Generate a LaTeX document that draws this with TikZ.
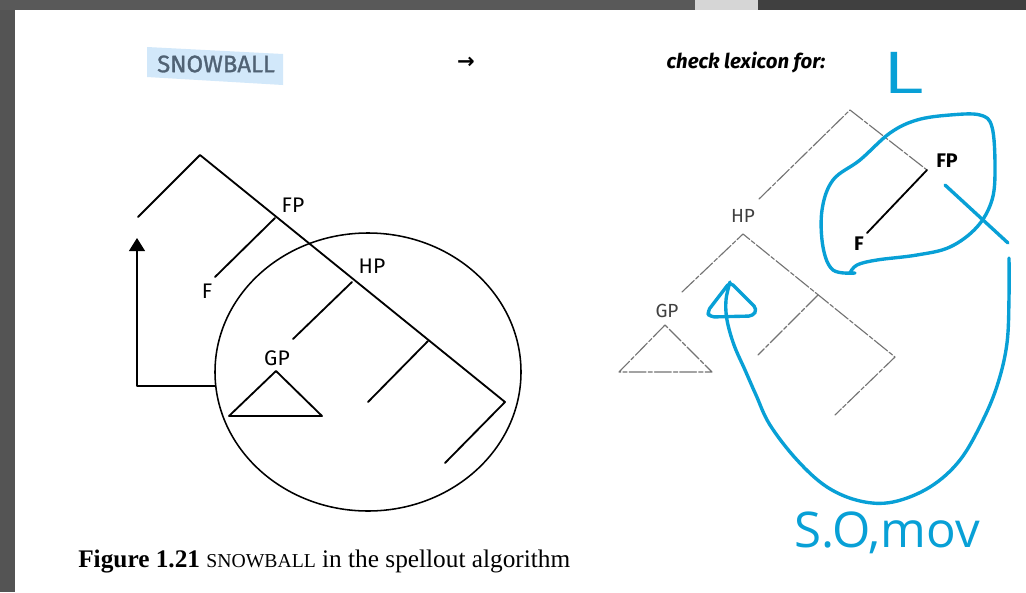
\documentclass[tikz,border=0pt]{standalone}
\usepackage{fontspec}
\setmainfont{Liberation Serif}
\newfontfamily\treefont{Fira Sans}
\newfontfamily\snowfont[FakeBold=1.2]{Fira Sans}
\newfontfamily\symfont{DejaVu Sans}
\newfontfamily\handfont{Open Sans}
\usetikzlibrary{arrows.meta}
\definecolor{pen}{RGB}{8,160,214}
\definecolor{marker}{RGB}{210,232,250}
\definecolor{inkgray}{RGB}{80,98,116}
\begin{document}
\begin{tikzpicture}[x=0.025cm, y=-0.025cm, line join=round, line cap=round,
  branch/.style={line width=1.3pt},
  faint/.style={black!55, line width=0.8pt, dash pattern=on 12pt off 1.5pt on 3pt off 1.5pt},
  stroke/.style={pen, line width=2.4pt},
  lbl/.style={font=\treefont\fontsize{15}{15}\selectfont, inner sep=0pt},
  rlbl/.style={font=\treefont\fontsize{13.5}{13.5}\selectfont, inner sep=0pt, black!75},
  blbl/.style={font=\treefont\bfseries\fontsize{14}{14}\selectfont, inner sep=0pt}]
\useasboundingbox (0,0) rectangle (1026,592);
% window frame
\fill[black!67] (0,0) rectangle (1026,592);
\fill[black!65] (0,0) rectangle (695,10);
\fill[black!16] (695,0) rectangle (758,10);
\fill[black!75] (758,0) rectangle (1026,10);
\fill[white] (15,10) rectangle (1026,592);
% heading line
\fill[marker] (147,47) -- (283,54) -- (283,85) -- (147,77) -- cycle;
\node[inkgray, font=\snowfont\fontsize{17}{17}\selectfont] (snow) at (216,64) {SNOWBALL};
\node[font=\symfont\bfseries\fontsize{15}{15}\selectfont] (goes) at (466,63) {→};
\node[font=\treefont\bfseries\itshape\fontsize{14.5}{14.5}\selectfont] (check) at (746,63) {check lexicon for:};
% left tree
\path
(200,155) coordinate (Ltop)
(138,217) coordinate (Lleft)
(275,218) coordinate (Lfp)
(215,277) coordinate (Lf)
(352,282) coordinate (Lhp)
(293,339) coordinate (Lgp)
(428,341) coordinate (Lmid)
(368,402) coordinate (Lmidend)
(505,402) coordinate (Llow)
(445,463) coordinate (Llowend)
(276,371) coordinate (Ltri);
\draw[branch] (Lleft) -- (Ltop) -- (Llow) -- (Llowend);
\foreach \a/\b in {Lfp/Lf, Lhp/Lgp, Lmid/Lmidend}
\draw[branch] (\a) -- (\b);
\draw[branch] (Ltri) -- ++(-47,45) -- ++(93,0) -- cycle;
\draw[line width=1.1pt] (368,372) ellipse (153 and 139);
\path (215,386) coordinate (Lring) (137,386) coordinate (Lcorner) (137,238) coordinate (Ltip);
\draw[branch, -{Triangle[length=0.33cm, width=0.4cm]}] (Lring) -- (Lcorner) -- (Ltip);
\foreach \n/\t/\p in {nFP/FP/{293,205}, nHP/HP/{372,266}, nF/F/{207,291}, nGP/GP/{277,358}}
\node[lbl] (L\n) at (\p) {\t};
% right tree
\path
(850,110) coordinate (Rtop)
(759,199) coordinate (Rleft)
(927,170) coordinate (Rfp)
(867,233) coordinate (Rf)
(743,234) coordinate (Rhp)
(682,292) coordinate (Rgp)
(818,295) coordinate (Rmid)
(758,355) coordinate (Rmidend)
(895,357) coordinate (Rlow)
(835,415) coordinate (Rlowend)
(665,325) coordinate (Rtri);
\draw[faint] (Rleft) -- (Rtop) -- (Rfp);
\draw[faint] (Rgp) -- (Rhp) -- (Rlow) -- (Rlowend);
\draw[faint] (Rmid) -- (Rmidend);
\draw[faint] (Rtri) -- ++(-46,47) -- ++(93,0) -- cycle;
\draw[line width=1.3pt] (Rfp) -- (Rf);
\node[rlbl] (RnHP) at (743,216) {HP};
\node[rlbl] (RnGP) at (667,311) {GP};
\node[blbl] (RnFP) at (947,161) {FP};
\node[blbl] (RnF) at (859,244) {F};
% pen marks
\node[pen, font=\handfont\fontsize{41}{41}\selectfont, inner sep=0pt] (mark) at (904,73) {\scalebox{1.35}[1]{L}};
\draw[stroke] plot[smooth, tension=0.6] coordinates {(855,273) (833,270) (823,247) (822,210) (833,180) (860,160) (890,133) (917,120) (950,115) (980,115) (992,127) (995,167) (992,200) (977,227) (950,247) (917,255) (877,260) (857,265) (850,273)};
\path (945,185) coordinate (Pa) (1008,243) coordinate (Pb);
\draw[stroke] (Pa) -- (Pb);
\draw[stroke] plot[smooth, tension=0.6] coordinates {(1009,258) (1009,297) (1007,343) (998,383) (983,420) (960,460) (930,487) (893,502) (860,501) (827,487) (797,460) (770,425) (756,395) (745,370) (734,345) (727,320) (726,300) (730,282)};
\draw[stroke, rounded corners=3pt] (730,282) -- (757,309) -- (753,316) -- (710,317) -- (707,312) -- cycle;
\node[pen, font=\handfont\fontsize{35}{35}\selectfont, inner sep=0pt] (note) at (887,533) {S.O,mov};
% caption
\node[anchor=base west, inner sep=0pt, font=\fontsize{18}{18}\selectfont] (cap) at (78,567)
{\textbf{Figure 1.21} {\fontsize{14}{14}\selectfont SNOWBALL} in the spellout algorithm};
\end{tikzpicture}
\end{document}
